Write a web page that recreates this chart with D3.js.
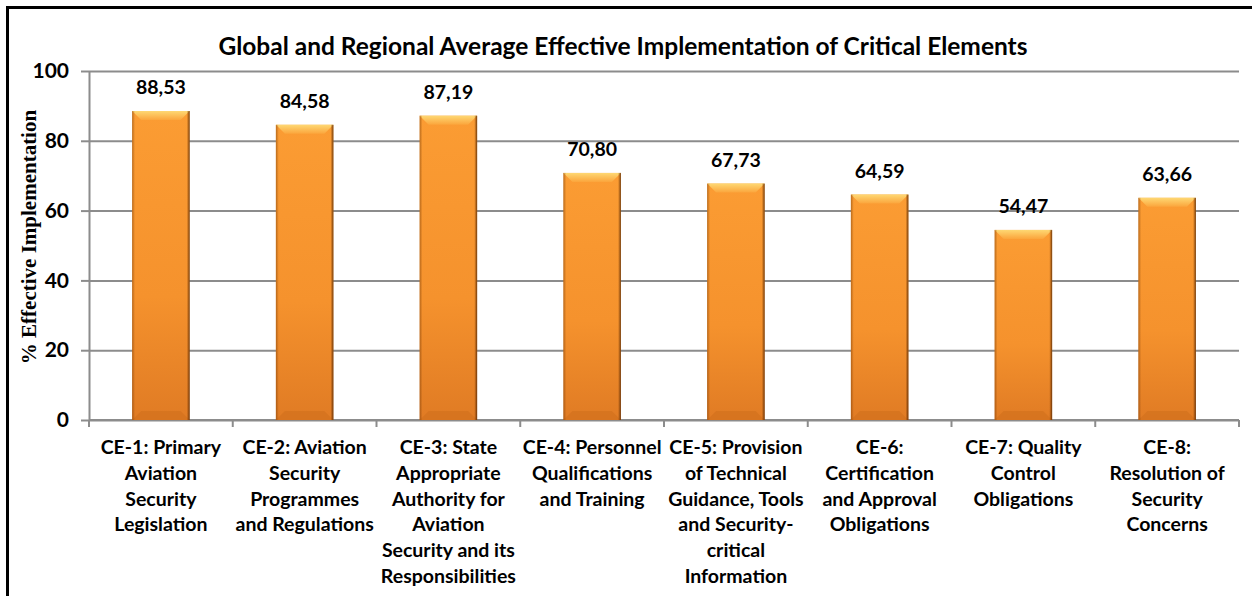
<!DOCTYPE html>
<html>
<head>
<meta charset="utf-8">
<script src="https://cdn.jsdelivr.net/npm/d3@7/dist/d3.min.js"></script>
<style>
  body { margin: 0; background: #fff; }
  text { font-family: Lato, "Open Sans", sans-serif; font-weight: bold; fill: #000; }
</style>
</head>
<body>
<div id="svgWrapper"></div>
<script>
"use strict"
// chart data
const categories = [
    "CE-1: Primary\nAviation\nSecurity\nLegislation",
    "CE-2: Aviation\nSecurity\nProgrammes\nand Regulations",
    "CE-3: State\nAppropriate\nAuthority for\nAviation\nSecurity and its\nResponsibilities",
    "CE-4: Personnel\nQualifications\nand Training",
    "CE-5: Provision\nof Technical\nGuidance, Tools\nand Security-\ncritical\nInformation",
    "CE-6:\nCertification\nand Approval\nObligations",
    "CE-7: Quality\nControl\nObligations",
    "CE-8:\nResolution of\nSecurity\nConcerns"
];
const values = [88.53, 84.58, 87.19, 70.80, 67.73, 64.59, 54.47, 63.66];
const yTicks = [0, 20, 40, 60, 80, 100];
const chartTitle = "Global and Regional Average Effective Implementation of Critical Elements";
const yTitle = "% Effective Implementation";

function drawChart() {
    var fullWidth = 1252;
    var fullHeight = 596;
    var left = 89, right = 1239, top = 71, bottom = 420;

    var svg = d3.select("#svgWrapper").append("svg")
        .attr("width", fullWidth).attr("height", fullHeight);

    // frame (only top and left edges are inside the picture)
    svg.append("rect").attr("x", 7.5).attr("y", 7.5)
        .attr("width", fullWidth + 20).attr("height", fullHeight + 20)
        .attr("fill", "#fff").attr("stroke", "#000").attr("stroke-width", 3);

    var defs = svg.append("defs");
    var vGrad = defs.append("linearGradient").attr("id", "barV")
        .attr("x1", 0).attr("y1", 0).attr("x2", 0).attr("y2", 1);
    vGrad.append("stop").attr("offset", "0%").attr("stop-color", "#fb9c33");
    vGrad.append("stop").attr("offset", "60%").attr("stop-color", "#f5922d");
    vGrad.append("stop").attr("offset", "100%").attr("stop-color", "#e07b24");

    var hGrad = defs.append("linearGradient").attr("id", "barH")
        .attr("x1", 0).attr("y1", 0).attr("x2", 1).attr("y2", 0);
    hGrad.append("stop").attr("offset", "0%").attr("stop-color", "#6a3000").attr("stop-opacity", 0.45);
    hGrad.append("stop").attr("offset", "5%").attr("stop-color", "#6a3000").attr("stop-opacity", 0.0);
    hGrad.append("stop").attr("offset", "95%").attr("stop-color", "#6a3000").attr("stop-opacity", 0.0);
    hGrad.append("stop").attr("offset", "100%").attr("stop-color", "#4a2000").attr("stop-opacity", 0.8);

    var topGrad = defs.append("linearGradient").attr("id", "bevTop")
        .attr("x1", 0).attr("y1", 0).attr("x2", 0).attr("y2", 1);
    topGrad.append("stop").attr("offset", "0%").attr("stop-color", "#fed873");
    topGrad.append("stop").attr("offset", "100%").attr("stop-color", "#fba53c");

    var xScale = d3.scaleBand()
        .domain(d3.range(categories.length))
        .range([left, right])
        .paddingInner(0.6).paddingOuter(0.3);

    var yScale = d3.scaleLinear().domain([0, 100]).range([bottom, top]);

    // gridlines + y axis
    var yAxis = d3.axisLeft(yScale).tickValues(yTicks).tickSize(-(right - left)).tickSizeOuter(0).tickPadding(20);
    var gy = svg.append("g").attr("transform", "translate(" + left + ",0)").call(yAxis);
    gy.select(".domain").attr("stroke", "#8c8c8c").attr("stroke-width", 2);
    gy.selectAll(".tick line").attr("stroke", "#8c8c8c").attr("stroke-width", 2);
    gy.selectAll(".tick").append("line")
        .attr("x1", -8).attr("x2", 0).attr("stroke", "#8c8c8c").attr("stroke-width", 2);
    gy.selectAll(".tick text")
        .style("font-family", "Lato, sans-serif").style("font-weight", "bold")
        .style("font-size", "21px").attr("fill", "#000");

    // x axis with boundary ticks
    var bounds = d3.range(categories.length + 1).map(i => left + i * (right - left) / categories.length);
    var gx = svg.append("g");
    gx.append("line").attr("x1", left).attr("x2", right).attr("y1", bottom).attr("y2", bottom)
        .attr("stroke", "#8c8c8c").attr("stroke-width", 2);
    gx.selectAll(".btick").data(bounds).enter().append("line")
        .attr("x1", d => d).attr("x2", d => d).attr("y1", bottom).attr("y2", bottom + 7)
        .attr("stroke", "#8c8c8c").attr("stroke-width", 2);

    // bars
    var bars = svg.append("g").selectAll("g").data(values).enter().append("g");
    bars.append("rect")
        .attr("x", (d, i) => xScale(i)).attr("y", d => yScale(d))
        .attr("width", xScale.bandwidth()).attr("height", d => bottom - yScale(d))
        .attr("fill", "url(#barV)");
    // top bevel
    var bev = 9;
    bars.append("path")
        .attr("d", function(d, i) {
            var x0 = xScale(i), x1 = x0 + xScale.bandwidth(), y0 = yScale(d);
            return "M" + x0 + "," + y0 + "L" + x1 + "," + y0 + "L" + (x1 - bev) + "," + (y0 + bev) +
                "L" + (x0 + bev) + "," + (y0 + bev) + "Z";
        })
        .attr("fill", "url(#bevTop)");
    // bottom bevel
    bars.append("path")
        .attr("d", function(d, i) {
            var x0 = xScale(i), x1 = x0 + xScale.bandwidth();
            return "M" + x0 + "," + bottom + "L" + x1 + "," + bottom + "L" + (x1 - bev) + "," + (bottom - bev) +
                "L" + (x0 + bev) + "," + (bottom - bev) + "Z";
        })
        .attr("fill", "#d06f1c").attr("opacity", 0.6);
    bars.append("rect")
        .attr("x", (d, i) => xScale(i)).attr("y", d => yScale(d))
        .attr("width", xScale.bandwidth()).attr("height", d => bottom - yScale(d))
        .attr("fill", "url(#barH)");

    // value labels
    svg.append("g").selectAll("text").data(values).enter().append("text")
        .attr("x", (d, i) => xScale(i) + xScale.bandwidth() / 2)
        .attr("y", d => yScale(d) - 17)
        .attr("text-anchor", "middle").style("font-size", "19.5px")
        .text(d => d.toFixed(2).replace(".", ","));

    // category labels
    var catG = svg.append("g").selectAll("text").data(categories).enter().append("text")
        .attr("text-anchor", "middle").style("font-size", "19.5px")
        .attr("transform", (d, i) => "translate(" + (xScale(i) + xScale.bandwidth() / 2) + ",454)");
    catG.selectAll("tspan").data(d => d.split("\n")).enter().append("tspan")
        .attr("x", 0).attr("y", (d, j) => j * 25.8).text(d => d);

    // titles
    svg.append("text").attr("x", 623).attr("y", 55).attr("text-anchor", "middle")
        .style("font-size", "24.5px").text(chartTitle);
    svg.append("text")
        .attr("transform", "translate(36,237) rotate(-90)")
        .attr("text-anchor", "middle")
        .style("font-family", "'Liberation Serif', 'DejaVu Serif', serif")
        .style("font-size", "21px").text(yTitle);
}

drawChart();
</script>
</body>
</html>
